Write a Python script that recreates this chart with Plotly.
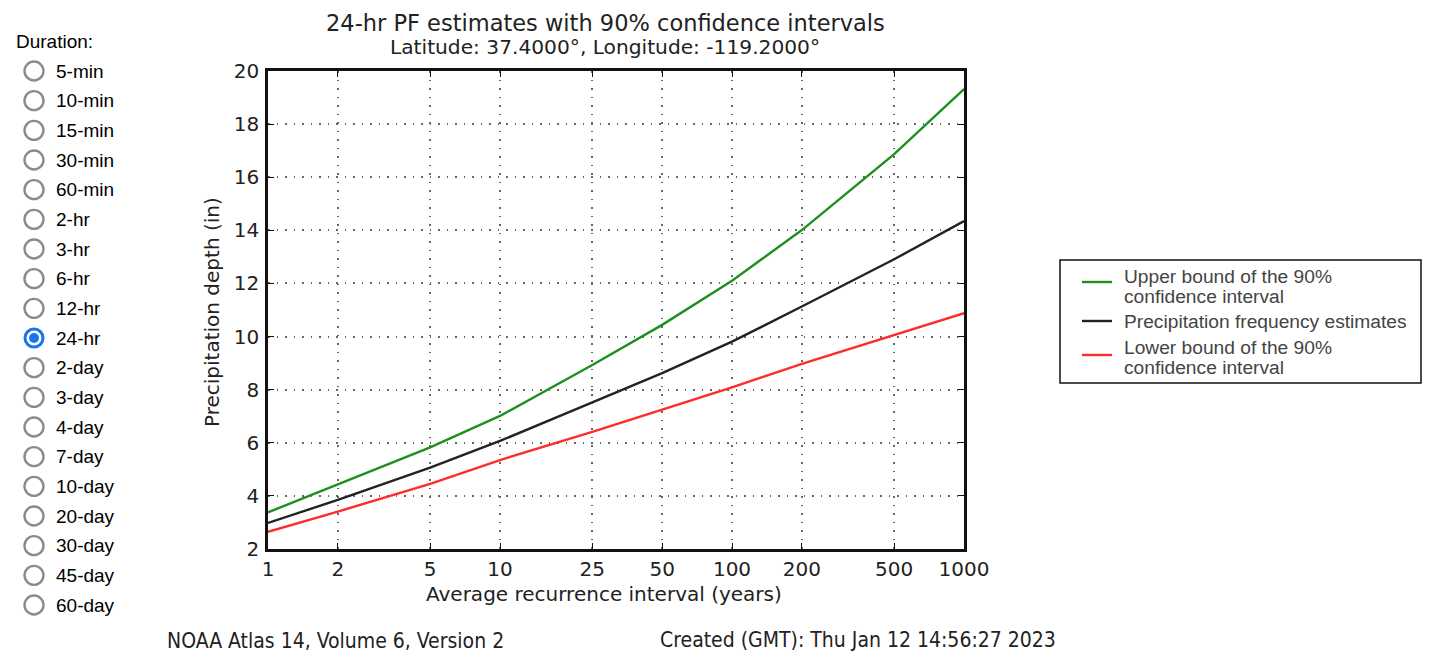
import plotly.graph_objects as go

# recurrence intervals (years) and depths (in)
intervals = [1, 2, 5, 10, 25, 50, 100, 200, 500, 1000]
upper_bound = [3.38, 4.44, 5.83, 7.01, 8.93, 10.44, 12.10, 14.01, 16.87, 19.32]
pf_estimate = [2.98, 3.85, 5.06, 6.07, 7.52, 8.62, 9.81, 11.13, 12.91, 14.35]
lower_bound = [2.65, 3.41, 4.45, 5.35, 6.41, 7.24, 8.09, 8.97, 10.06, 10.88]

x_ticks = [1, 2, 5, 10, 25, 50, 100, 200, 500, 1000]
y_ticks = [2, 4, 6, 8, 10, 12, 14, 16, 18, 20]

durations = ['5-min', '10-min', '15-min', '30-min', '60-min', '2-hr', '3-hr', '6-hr',
             '12-hr', '24-hr', '2-day', '3-day', '4-day', '7-day', '10-day', '20-day',
             '30-day', '45-day', '60-day']
selected = '24-hr'

W, H = 1440, 668
OFF = 8                          # page body margin
L, R, T, B = 268, 964, 71, 549   # plot area in page pixels

MPL_FONT = 'DejaVu Sans'
COND_FONT = 'DejaVu Sans Condensed, DejaVu Sans'
HTML_FONT = 'Liberation Sans, Arial, sans-serif'


def px(x):
    return (x - L) / (R - L)


def py(y):
    return (B - y) / (B - T)


def text(x, y, s, size, family, color='#222', anchor='left'):
    return dict(x=px(x), y=py(y), xref='paper', yref='paper', xanchor=anchor,
                yanchor='middle', text=s, showarrow=False,
                font=dict(family=family, size=size, color=color))


fig = go.Figure()

series = [
    (['Upper bound of the 90%', 'confidence interval'], upper_bound, '#1e8f1e'),
    (['Precipitation frequency estimates'], pf_estimate, '#222222'),
    (['Lower bound of the 90%', 'confidence interval'], lower_bound, '#ff2b2b'),
]
for name, vals, color in series:
    fig.add_trace(go.Scatter(
        x=intervals, y=vals, mode='lines', name=' '.join(name),
        line=dict(color=color, width=2.4), showlegend=False,
    ))

shapes = []
annotations = []

# duration radio list on the left
annotations.append(text(14, 42, 'Duration:', 19, HTML_FONT, '#000'))
step = (605 - 71) / (len(durations) - 1)
for i, d in enumerate(durations):
    cy = 71 + i * step
    cx = 34
    if d == selected:
        for r, c in [(10.5, '#1a73f0'), (7.5, 'white'), (5, '#1a73f0')]:
            shapes.append(dict(type='circle', xref='paper', yref='paper',
                               x0=px(cx - r), x1=px(cx + r), y0=py(cy + r), y1=py(cy - r),
                               fillcolor=c, line=dict(width=0)))
    else:
        shapes.append(dict(type='circle', xref='paper', yref='paper',
                           x0=px(cx - 9.5), x1=px(cx + 9.5), y0=py(cy + 9.5), y1=py(cy - 9.5),
                           fillcolor='white', line=dict(color='#8a8a94', width=2.4)))
    annotations.append(text(54, cy, d, 19, HTML_FONT, '#000'))

# title + subtitle
annotations.append(text(605, 23, '24-hr PF estimates with 90% confidence intervals',
                        22.5, MPL_FONT, anchor='center'))
annotations.append(text(605, 47, 'Latitude: 37.4000°, Longitude: -119.2000°',
                        20.2, MPL_FONT, anchor='center'))

# axis titles
annotations.append(text(604, 594, 'Average recurrence interval (years)', 20, MPL_FONT,
                        anchor='center'))
annotations.append(dict(x=px(212), y=py(312), xref='paper', yref='paper',
                        xanchor='center', yanchor='middle', textangle=-90,
                        text='Precipitation depth (in)', showarrow=False,
                        font=dict(family=MPL_FONT, size=20, color='#222')))

# footer
annotations.append(text(165, 641, 'NOAA Atlas 14, Volume 6, Version 2', 21, COND_FONT))
annotations.append(text(658, 640, 'Created (GMT): Thu Jan 12 14:56:27 2023', 21, COND_FONT))

# legend box (drawn by hand to match the tight line spacing)
shapes.append(dict(type='rect', xref='paper', yref='paper',
                   x0=px(1060), x1=px(1421), y0=py(383), y1=py(260),
                   fillcolor='white', line=dict(color='#111', width=1.5)))
legend_rows = [(282, [276, 296]), (321, [321]), (355, [347, 367])]
for (name, vals, color), (ly, ty) in zip(series, legend_rows):
    shapes.append(dict(type='line', xref='paper', yref='paper',
                       x0=px(1082), x1=px(1112), y0=py(ly), y1=py(ly),
                       line=dict(color=color, width=2.4)))
    for s, y in zip(name, ty):
        annotations.append(text(1122, y, s, 19.2, HTML_FONT, '#444'))

axis_common = dict(
    showline=True, linecolor='#111', linewidth=2.5, mirror='ticks',
    ticks='inside', ticklen=6, tickwidth=1.2, tickcolor='#111',
    showgrid=True, gridcolor='#666', griddash='1.5px,7px', gridwidth=1.5,
    zeroline=False,
    tickfont=dict(family=MPL_FONT, size=20, color='#222'),
)

fw, fh = W - 2 * OFF, H - 2 * OFF
fig.update_layout(
    width=fw, height=fh,
    margin=dict(l=L - OFF, r=fw - (R - OFF), t=T - OFF, b=fh - (B - OFF)),
    paper_bgcolor='white', plot_bgcolor='white',
    showlegend=False,
    xaxis=dict(
        type='log', range=[0, 3], tickvals=x_ticks, ticktext=[str(v) for v in x_ticks],
        **axis_common
    ),
    yaxis=dict(
        range=[2, 20], tickvals=y_ticks, ticklabelstandoff=2,
        **axis_common
    ),
    shapes=shapes,
    annotations=annotations,
)

fig.write_html('out.html')
